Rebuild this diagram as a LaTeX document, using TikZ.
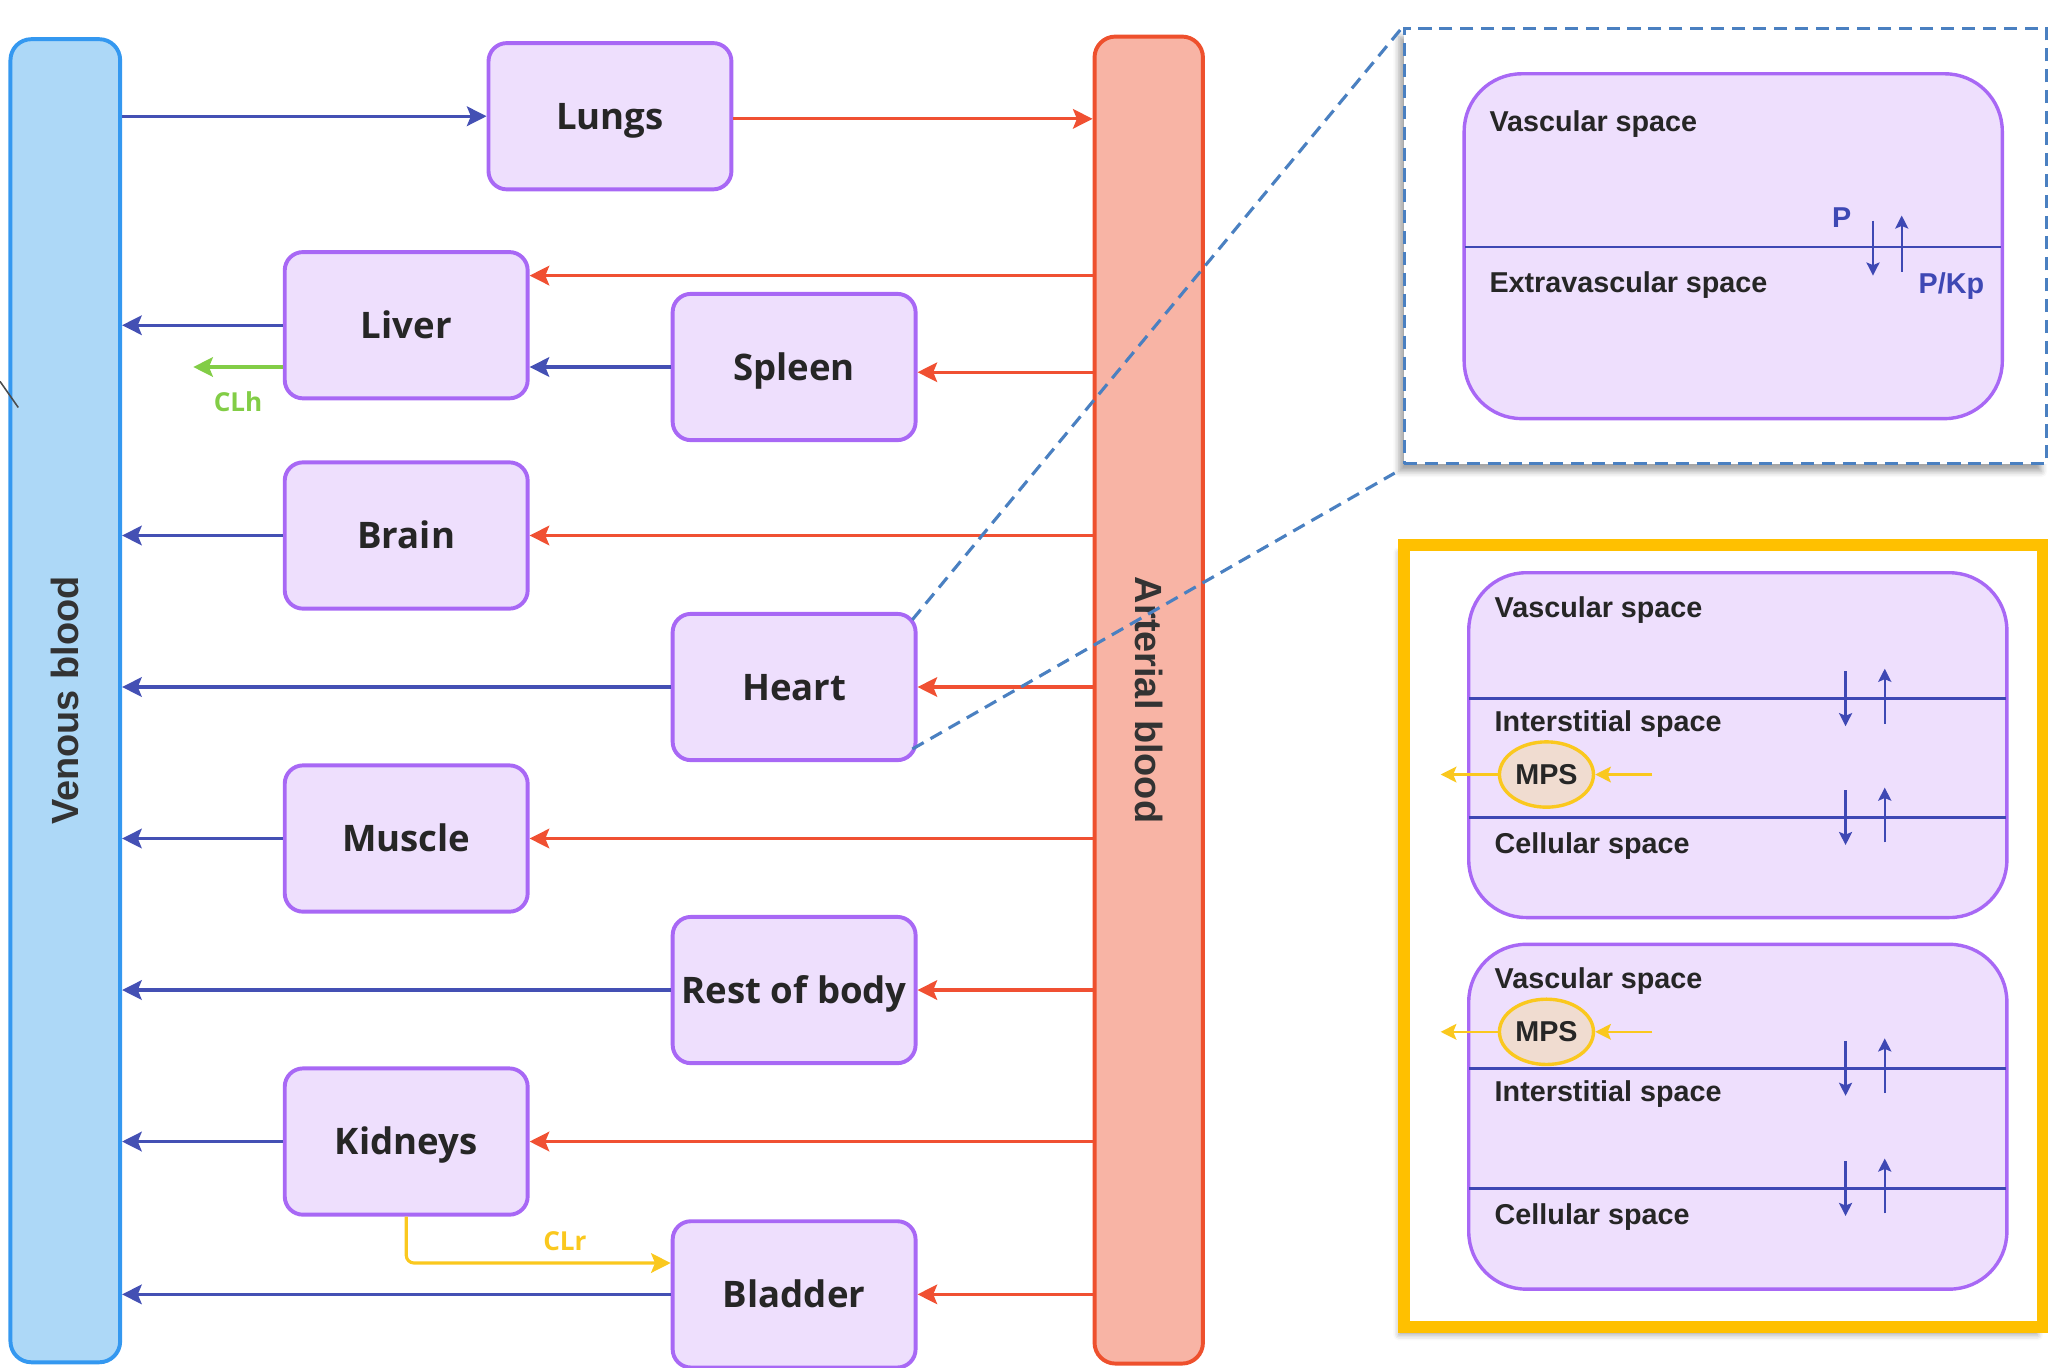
\documentclass[tikz,border=0pt]{standalone}
\usepackage{fontspec}
\setmainfont{Open Sans}
\newfontfamily\arialfont{Liberation Sans}
\usepackage{tikz}
\usetikzlibrary{arrows.meta, shapes.geometric, shadows.blur}

\definecolor{organfill}{RGB}{238,223,253}
\definecolor{organline}{RGB}{168,104,245}
\definecolor{venousfill}{RGB}{173,216,247}
\definecolor{venousline}{RGB}{52,152,240}
\definecolor{arterialfill}{RGB}{248,180,165}
\definecolor{arterialline}{RGB}{238,80,45}
\definecolor{venarrow}{RGB}{68,80,180}
\definecolor{artarrow}{RGB}{240,80,50}
\definecolor{clhgreen}{RGB}{130,205,70}
\definecolor{clryellow}{RGB}{250,200,30}
\definecolor{framey}{RGB}{255,192,0}
\definecolor{zoomblue}{RGB}{74,128,193}
\definecolor{fluxblue}{RGB}{62,72,180}
\definecolor{mpsfill}{RGB}{240,220,208}

\begin{document}
\begin{tikzpicture}[x=0.5pt, y=-0.5pt,
    organ/.style={draw=organline, fill=organfill, line width=1.5pt, rounded corners=7pt, minimum width=93pt, minimum height=56pt, inner sep=2pt, text height=12pt, text depth=2pt, font=\bfseries\fontsize{14}{16}\selectfont, text=black!85},
    bar/.style={line width=1.5pt, rounded corners=8pt},
    barlabel/.style={font=\arialfont\bfseries\fontsize{14.5}{16}\selectfont, text=black!80},
    venous arrow/.style={draw=venarrow, line width=1.2pt, -{Stealth[length=7.5pt, width=7.5pt, inset=1.5pt]}},
    arterial arrow/.style={draw=artarrow, line width=1.2pt, -{Stealth[length=7.5pt, width=7.5pt, inset=1.5pt]}},
    clear arrow/.style={line width=1.2pt, -{Stealth[length=7.5pt, width=7.5pt, inset=1.5pt]}},
    zoomline/.style={draw=zoomblue, line width=1.2pt, dash pattern=on 5pt off 3pt},
    comp/.style={draw=organline, fill=organfill, line width=1.3pt, rounded corners=22pt, minimum width=206pt, minimum height=132pt},
    membrane/.style={draw=fluxblue, line width=1pt},
    spacelabel/.style={anchor=west, inner sep=0pt, font=\arialfont\bfseries\fontsize{11}{13}\selectfont, text=black!85},
    fluxlabel/.style={inner sep=0pt, font=\arialfont\bfseries\fontsize{11}{13}\selectfont, text=fluxblue},
    flux/.style={draw=fluxblue, line width=0.9pt, -{Stealth[length=5pt, width=5pt, inset=1pt]}},
    mps/.style={ellipse, draw=clryellow, fill=mpsfill, line width=1.3pt, minimum width=36pt, minimum height=25pt, inner sep=0pt, font=\arialfont\bfseries\fontsize{11}{13}\selectfont, text=black!85},
    mps arrow/.style={draw=clryellow, line width=1pt, -{Stealth[length=6pt, width=6pt, inset=1.2pt]}}]

    \clip (0,0) rectangle (1568,1047);

    % blood pools
    \node[bar, draw=venousline, fill=venousfill, minimum width=42pt, minimum height=506.5pt,
        label={[barlabel, rotate=90]center:Venous blood}] (venous) at (50,536.5) {};
    \node[bar, draw=arterialline, fill=arterialfill, minimum width=41.5pt, minimum height=508pt,
        label={[barlabel, rotate=-90]center:Arterial blood}] (arterial) at (879.5,536) {};
    \draw[gray!60!black, line width=0.6pt] (0,292) -- (14,312);

    % organs
    \node[organ] (lungs) at (467,89) {Lungs};
    \node[organ] (liver) at (311,249) {Liver};
    \node[organ] (spleen) at (608,281) {Spleen};
    \node[organ] (brain) at (311,410) {Brain};
    \node[organ] (heart) at (608,526) {Heart};
    \node[organ] (muscle) at (311,642) {Muscle};
    \node[organ] (rest) at (608,758) {Rest of body};
    \node[organ] (kidneys) at (311,874) {Kidneys};
    \node[organ] (bladder) at (608,991) {Bladder};

    % blood flow
    \draw[venous arrow] (lungs.west -| venous.east) -- (lungs.west);
    \draw[arterial arrow] ([yshift=-1pt]lungs.east) -- ([yshift=-1pt]lungs.east -| arterial.west);
    \draw[arterial arrow] ([yshift=19pt]liver.east -| arterial.west) -- ([yshift=19pt]liver.east);
    \draw[venous arrow] (liver.west) -- (liver.west -| venous.east);
    \draw[venous arrow] (spleen.west) -- (spleen.west -| liver.east);
    \draw[arterial arrow] ([yshift=-2pt]spleen.east -| arterial.west) -- ([yshift=-2pt]spleen.east);
    \foreach \o in {brain, heart, muscle, rest, kidneys, bladder} {
        \draw[arterial arrow] (\o.east -| arterial.west) -- (\o.east);
        \draw[venous arrow] (\o.west) -- (\o.west -| venous.east);
    }

    % clearances
    \coordinate (clhend) at (148,281);
    \draw[clear arrow, draw=clhgreen] ([yshift=-16pt]liver.west) -- (clhend)
        node[midway, below=9pt, inner sep=0pt, text=clhgreen, font=\bfseries\fontsize{10}{12}\selectfont] (clh) {CLh};
    \draw[clear arrow, draw=clryellow, rounded corners=3pt] (kidneys.south) |- ([yshift=12pt]bladder.west)
        node[pos=0.8, above=4pt, inner sep=0pt, text=clryellow, font=\bfseries\fontsize{10}{12}\selectfont] (clr) {CLr};

    % zoom on one organ
    \node[draw=zoomblue, line width=1.2pt, dash pattern=on 5pt off 3pt, fill=white, minimum width=246pt, minimum height=166.5pt,
        blur shadow={shadow xshift=-2pt, shadow yshift=-3pt, shadow opacity=35}] (zoombox) at (1321,188.5) {};
    \draw[zoomline] ([shift={(-2pt,-3pt)}]heart.north east) -- (zoombox.north west);
    \draw[zoomline] ([shift={(-2pt,5pt)}]heart.south east) -- ([shift={(-3pt,-3pt)}]zoombox.south west);

    \node[comp] (comp1) at (1327,188.5) {};
    \draw[membrane] (1122,189) -- (1532,189);
    \node[spacelabel] (vasc1) at (1140,95) {Vascular space};
    \node[spacelabel] (extra1) at (1140,218) {Extravascular space};
    \node[fluxlabel] (p1) at (1410,167) {P};
    \node[fluxlabel] (pkp1) at (1494,219) {P/Kp};
    \draw[flux] (1434,169) -- (1434,211);
    \draw[flux] (1456,208) -- (1456,165);

    % MPS models
    \node[draw=framey, line width=4.5pt, fill=white, minimum width=244.5pt, minimum height=299.5pt,
        blur shadow={shadow xshift=-2pt, shadow yshift=-3pt, shadow opacity=35}] (mpsframe) at (1319.5,716.5) {};

    \node[comp] (comp2) at (1330.5,570.5) {};
    \node[comp] (comp3) at (1330.5,855) {};
    \foreach \y in {535, 626, 818, 910} {
        \draw[membrane] (1125,\y) -- (1536,\y);
        \draw[flux] (1413,{\y-21}) -- (1413,{\y+21});
        \draw[flux] (1443,{\y+19}) -- (1443,{\y-23});
    }
    \node[spacelabel] (vasc2) at (1144,467) {Vascular space};
    \node[spacelabel] (inter2) at (1144,554) {Interstitial space};
    \node[spacelabel] (cell2) at (1144,648) {Cellular space};
    \node[spacelabel] (vasc3) at (1144,751) {Vascular space};
    \node[spacelabel] (inter3) at (1144,838) {Interstitial space};
    \node[spacelabel] (cell3) at (1144,932) {Cellular space};

    \node[mps] (mps1) at (1184,593) {MPS};
    \node[mps] (mps2) at (1184,790) {MPS};
    \coordinate (mps1in) at (1265,593);
    \coordinate (mps1out) at (1103,593);
    \coordinate (mps2in) at (1265,790);
    \coordinate (mps2out) at (1103,790);
    \draw[mps arrow] (mps1in) -- (mps1.east);
    \draw[mps arrow] (mps1.west) -- (mps1out);
    \draw[mps arrow] (mps2in) -- (mps2.east);
    \draw[mps arrow] (mps2.west) -- (mps2out);
\end{tikzpicture}
\end{document}
